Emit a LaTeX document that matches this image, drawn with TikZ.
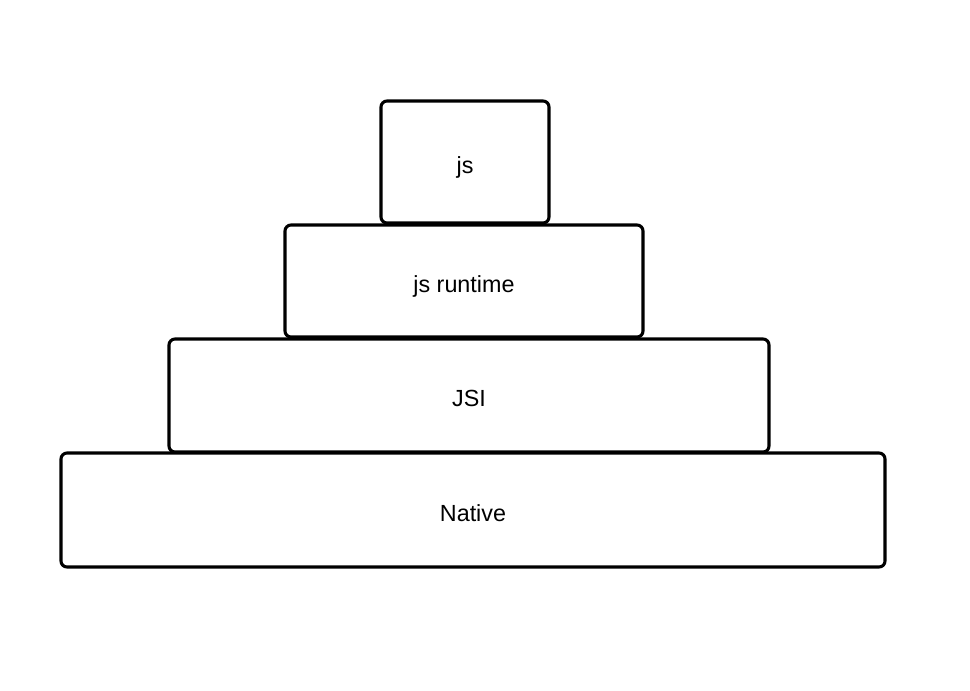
\documentclass[tikz,border=0pt]{standalone}
\usepackage{fontspec}
\setmainfont{Liberation Sans}
\usepackage{tikz}
\usetikzlibrary{positioning}

\tikzset{
  layer/.style={draw,line width=2.3pt,rounded corners=4.5pt,inner sep=0pt,
    fill=white,font=\fontsize{17.5}{20}\selectfont,
    text height=17pt,text depth=0pt}
}

\begin{document}
\begin{tikzpicture}[x=0.75pt,y=-0.75pt]
\useasboundingbox (0,0) rectangle (970,690);
% stack of layers, bottom to top
\node[layer,minimum width=618pt,minimum height=85.5pt] (native) at (473,510) {Native};
\node[layer,minimum width=450pt,minimum height=84.75pt] (jsi) at (469,395.5) {JSI};
\node[layer,minimum width=268.5pt,minimum height=84pt] (runtime) at (464,281) {js runtime};
\node[layer,minimum width=126pt,minimum height=91.5pt] (js) at (465,162) {js};
\end{tikzpicture}
\end{document}
